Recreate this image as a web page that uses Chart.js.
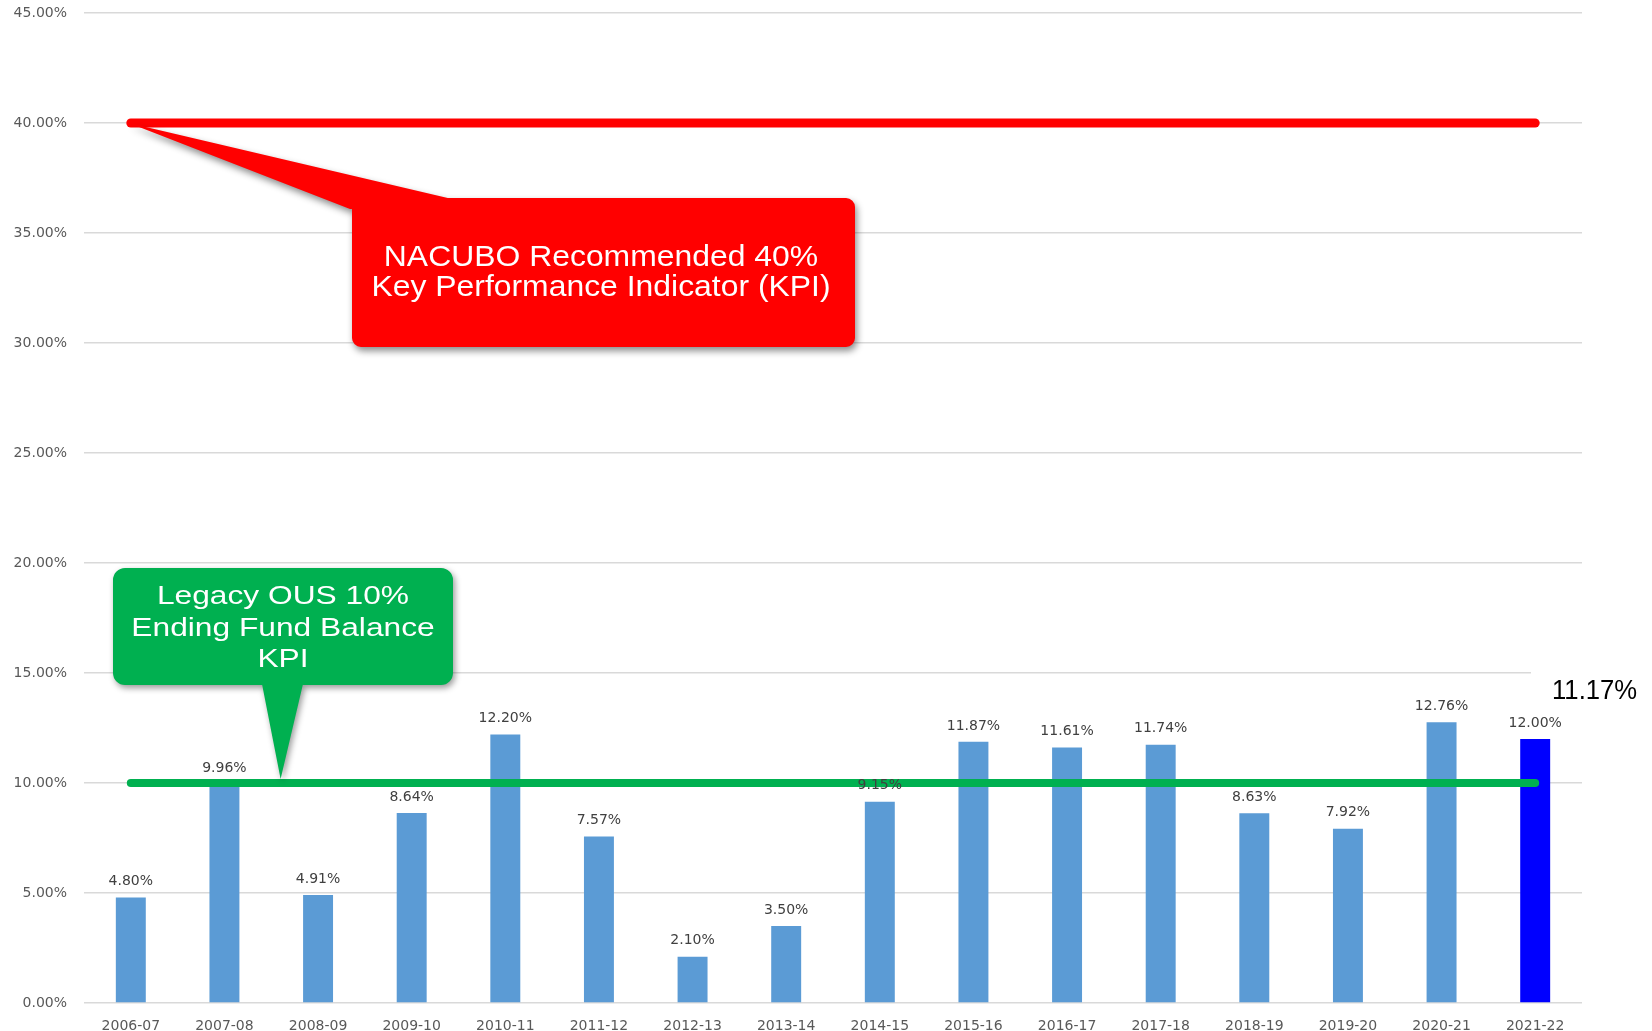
<!DOCTYPE html>
<html>
<head>
<meta charset="utf-8">
<title>Ending Fund Balance vs KPI</title>
<script src="https://cdn.jsdelivr.net/npm/chart.js@4.4.1/dist/chart.umd.min.js"></script>
<style>
  body { margin: 0; background: #fff; }
  canvas { display: block; }
</style>
</head>
<body>
<canvas id="fundChart" width="1652" height="1031"></canvas>
<script>
// --- DATA ---
const years = ['2006-07', '2007-08', '2008-09', '2009-10', '2010-11', '2011-12', '2012-13', '2013-14',
               '2014-15', '2015-16', '2016-17', '2017-18', '2018-19', '2019-20', '2020-21', '2021-22'];
const balancePct = [4.80, 9.96, 4.91, 8.64, 12.20, 7.57, 2.10, 3.50, 9.15, 11.87, 11.61, 11.74, 8.63, 7.92, 12.76, 12.00];
const nacuboKpi = [40, 40, 40, 40, 40, 40, 40, 40, 40, 40, 40, 40, 40, 40, 40, 40];
const legacyKpi = [10, 10, 10, 10, 10, 10, 10, 10, 10, 10, 10, 10, 10, 10, 10, 10];
const yTicks = [0, 5, 10, 15, 20, 25, 30, 35, 40, 45];
const currentNote = '11.17%';

const barColors = balancePct.map((v, i) => i === balancePct.length - 1 ? '#0000ff' : '#5b9bd5');

Chart.defaults.font.family = '"DejaVu Sans", Verdana, sans-serif';

// draws text squeezed/stretched sideways (the source callouts are stretched)
function wideText(ctx, text, x, y, sx) {
    ctx.save();
    ctx.translate(x, y);
    ctx.scale(sx, 1);
    ctx.fillText(text, 0, 0);
    ctx.restore();
}

// --- PLUGINS ---
const barLabels = {
    id: 'barLabels',
    afterDatasetsDraw(chart) {
        const meta = chart.getDatasetMeta(2);
        const ctx = chart.ctx;
        ctx.save();
        ctx.font = '14px "DejaVu Sans"';
        ctx.fillStyle = '#404040';
        ctx.textAlign = 'center';
        ctx.textBaseline = 'middle';
        meta.data.forEach((bar, i) => {
            ctx.fillText(balancePct[i].toFixed(2) + '%', bar.x, bar.y - 16);
        });
        ctx.restore();
    }
};

const callouts = {
    id: 'callouts',
    afterDraw(chart) {
        const ctx = chart.ctx;
        const x = chart.scales.x, y = chart.scales.y;

        // red NACUBO callout, pointing at the start of the 40% line
        ctx.save();
        ctx.shadowColor = 'rgba(0,0,0,0.45)';
        ctx.shadowBlur = 7;
        ctx.shadowOffsetX = 2;
        ctx.shadowOffsetY = 4;
        ctx.fillStyle = '#ff0000';
        ctx.beginPath();
        ctx.roundRect(352, 198, 503, 149, 9);
        ctx.moveTo(x.getPixelForValue(0) - 2, y.getPixelForValue(40));
        ctx.lineTo(452, 199);
        ctx.lineTo(350, 209);
        ctx.closePath();
        ctx.fill();
        ctx.restore();

        ctx.save();
        ctx.fillStyle = '#ffffff';
        ctx.font = '29px "Liberation Sans", Arial, sans-serif';
        ctx.textAlign = 'center';
        ctx.textBaseline = 'middle';
        wideText(ctx, 'NACUBO Recommended 40%', 601, 258, 1.10);
        wideText(ctx, 'Key Performance Indicator (KPI)', 601, 288, 1.10);
        ctx.restore();

        // green legacy callout, pointing down at the 10% line
        ctx.save();
        ctx.shadowColor = 'rgba(0,0,0,0.4)';
        ctx.shadowBlur = 6;
        ctx.shadowOffsetX = 2;
        ctx.shadowOffsetY = 3;
        ctx.fillStyle = '#00b050';
        ctx.beginPath();
        ctx.roundRect(113, 568, 340, 117, 12);
        ctx.moveTo(262, 684);
        ctx.lineTo(303, 684);
        ctx.lineTo(x.getPixelForValue(1.6), y.getPixelForValue(10) - 4);
        ctx.closePath();
        ctx.fill();
        ctx.restore();

        ctx.save();
        ctx.fillStyle = '#ffffff';
        ctx.font = '26px "Liberation Sans", Arial, sans-serif';
        ctx.textAlign = 'center';
        ctx.textBaseline = 'middle';
        wideText(ctx, 'Legacy OUS 10%', 283, 597, 1.22);
        wideText(ctx, 'Ending Fund Balance', 283, 629, 1.22);
        wideText(ctx, 'KPI', 283, 660, 1.22);
        ctx.restore();

        // current-year note at the right edge
        ctx.save();
        ctx.fillStyle = '#ffffff';
        ctx.fillRect(1531, 662, 121, 48);
        ctx.fillStyle = '#000000';
        ctx.font = '27px "Liberation Sans", Arial, sans-serif';
        ctx.textBaseline = 'middle';
        wideText(ctx, currentNote, 1552, 692, 0.95);
        ctx.restore();
    }
};

// --- CHART ---
new Chart(document.getElementById('fundChart'), {
    data: {
        labels: years,
        datasets: [
            {
                type: 'line',
                label: 'NACUBO 40% KPI',
                data: nacuboKpi,
                borderColor: '#ff0000',
                borderWidth: 9,
                borderCapStyle: 'round',
                pointRadius: 0,
                order: 0
            },
            {
                type: 'line',
                label: 'Legacy OUS 10% KPI',
                data: legacyKpi,
                borderColor: '#00b050',
                borderWidth: 8,
                borderCapStyle: 'round',
                pointRadius: 0,
                order: 0
            },
            {
                type: 'bar',
                label: 'Ending Fund Balance',
                data: balancePct,
                backgroundColor: barColors,
                categoryPercentage: 1,
                barPercentage: 0.32,
                order: 1
            }
        ]
    },
    options: {
        responsive: false,
        animation: false,
        layout: { padding: { top: 13, right: 70, left: 0, bottom: 0 } },
        plugins: {
            legend: { display: false },
            tooltip: { enabled: false }
        },
        scales: {
            x: {
                grid: { display: false },
                border: { display: false },
                ticks: { color: '#595959', font: { size: 14 }, padding: 7, maxRotation: 0 },
                afterFit(scale) { scale.height = 28; }
            },
            y: {
                min: 0,
                max: 45,
                afterBuildTicks(scale) { scale.ticks = yTicks.map(v => ({ value: v })); },
                grid: { color: '#d9d9d9', lineWidth: 1.5, drawTicks: false },
                border: { display: false },
                ticks: {
                    color: '#595959',
                    font: { size: 14 },
                    padding: 17,
                    callback: v => v.toFixed(2) + '%'
                },
                afterFit(scale) {
                    scale.width = 84;
                    scale.paddingTop = 0;
                    scale.paddingBottom = 0;
                }
            }
        }
    },
    plugins: [barLabels, callouts]
});
</script>
</body>
</html>
